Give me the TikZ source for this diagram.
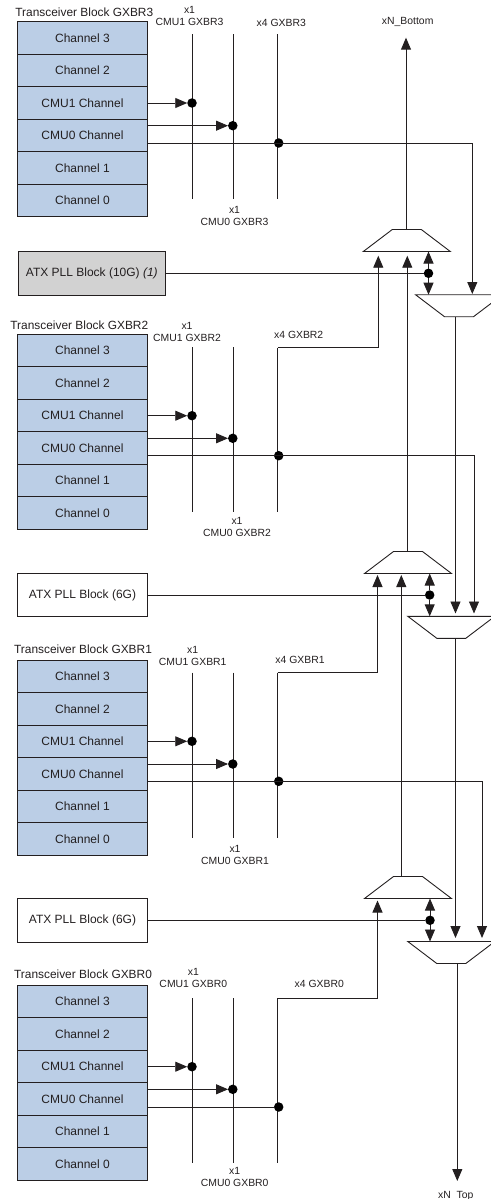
\documentclass[tikz,border=0pt]{standalone}
\usepackage{fontspec}
\setmainfont{Liberation Sans}
\usepackage{xcolor}
\usetikzlibrary{arrows.meta,shapes.geometric}
\definecolor{inkdark}{HTML}{231F20}
\definecolor{chanblue}{HTML}{BBCEE6}
\definecolor{atxgray}{HTML}{D2D2D2}
\tikzset{
  chan/.style={draw=inkdark, fill=chanblue, line width=0.9pt, minimum width=130pt, minimum height=32.5pt, inner sep=0pt, outer sep=0pt, font=\fontsize{12}{14}\selectfont, text=inkdark},
  pll/.style={draw=inkdark, line width=0.9pt, minimum height=43.4pt, inner sep=0pt, outer sep=0pt, font=\fontsize{12}{14}\selectfont, text=inkdark},
  ttl/.style={inner sep=0pt, font=\fontsize{11.9}{14}\selectfont, text=inkdark},
  lbl/.style={inner sep=0pt, align=center, font=\fontsize{10.4}{12}\selectfont, text=inkdark},
  tapdot/.style={circle, fill=black, inner sep=0pt, minimum size=9.5pt, outer sep=0pt},
  bus/.style={draw=inkdark, line width=0.9pt},
  sig/.style={draw=inkdark, line width=0.9pt, -{Triangle[length=12pt,width=10pt]}},
  muxup/.style={draw=inkdark, line width=0.9pt, trapezium, trapezium angle=45, trapezium stretches=true, minimum width=87pt, minimum height=22pt, text width=2pt, text height=2pt, inner sep=0pt, outer sep=0pt},
  muxdn/.style={muxup, shape border rotate=180}
}
\begin{document}
\begin{tikzpicture}[x=1pt, y=-1pt]
  \useasboundingbox (0,0) rectangle (490,1199);

  % Multiplexers
  \node[muxup] (muxupA) at (406.8,240.5) {};
  \node[muxup] (muxupB) at (408,562.5) {};
  \node[muxup] (muxupC) at (408,887.5) {};
  \node[muxdn] (muxdnA) at (459,305.7) {};
  \node[muxdn] (muxdnB) at (451.3,627.3) {};
  \node[muxdn] (muxdnC) at (451.3,952.5) {};

  % Arrow ends near the multiplexers
  \coordinate (inA1) at (378.3,255.7);
  \coordinate (inA2) at (407.3,255.7);
  \coordinate (inB1) at (377.5,575);
  \coordinate (inB2) at (401.3,575);
  \coordinate (inC1) at (377.5,900.5);
  \coordinate (dnA1) at (472.3,294);
  \coordinate (dnB1) at (455.5,613.5);
  \coordinate (dnB2) at (474,613.5);
  \coordinate (dnC1) at (455.5,938);
  \coordinate (dnC2) at (482,938);
  \coordinate (outT) at (406,37.7);
  \coordinate (outB) at (457.3,1181);

  % Block GXBR3
  \node[ttl] (ttl3) at (84.3,12.7) {Transceiver Block GXBR3};
  \node[chan] (ch3b3) at (82.5,37.95) {Channel 3};
  \node[chan] (ch2b3) at (82.5,70.45) {Channel 2};
  \node[chan] (cmu1b3) at (82.5,102.95) {CMU1 Channel};
  \node[chan] (cmu0b3) at (82.5,135.45) {CMU0 Channel};
  \node[chan] (ch1b3) at (82.5,167.95) {Channel 1};
  \node[chan] (ch0b3) at (82.5,200.45) {Channel 0};
  \node[lbl] (lc1b3) at (189.5,15.7) {x1\\CMU1 GXBR3};
  \node[lbl] (lc0b3) at (234.5,215.8) {x1\\CMU0 GXBR3};
  \node[lbl] (lx4b3) at (281.3,23.3) {x4 GXBR3};
  \coordinate (c1t3) at (192,34.3); \coordinate (c1e3) at (192,199.3);
  \coordinate (c0t3) at (233.3,34.3); \coordinate (c0e3) at (233.3,199.3);
  \coordinate (c4t3) at (277.7,34.3); \coordinate (c4e3) at (277.7,199.3);
  \draw[bus] (c1t3) -- (c1e3);
  \draw[bus] (c0t3) -- (c0e3);
  \draw[bus] (c4t3) -- (c4e3);
  \node[tapdot] (dot1b3) at (192,103) {};
  \node[tapdot] (dot0b3) at (232.8,125.7) {};
  \node[tapdot] (dotxb3) at (278.7,143) {};
  \draw[sig] (cmu1b3.east |- dot1b3) -- (dot1b3);
  \draw[sig] (cmu0b3.east |- dot0b3) -- (dot0b3);
  \draw[sig] (cmu0b3.east |- dotxb3) -| (dnA1);

  % ATX PLL 10G
  \node[pll, fill=atxgray, minimum width=147.7pt] (atxA) at (91.8,273.3) {ATX PLL Block (10G) \textit{(1)}};
  \node[tapdot] (dotA) at (428.5,273.3) {};
  \draw[bus] (atxA.east |- dotA) -- (dotA);
  \draw[sig] (dotA) -- (dotA |- muxupA.south);
  \draw[sig] (dotA) -- (dotA |- muxdnA.north);

  % Block GXBR2
  \node[ttl] (ttl2) at (79.3,325.7) {Transceiver Block GXBR2};
  \node[chan] (ch3b2) at (82.5,350.55) {Channel 3};
  \node[chan] (ch2b2) at (82.5,383.05) {Channel 2};
  \node[chan] (cmu1b2) at (82.5,415.55) {CMU1 Channel};
  \node[chan] (cmu0b2) at (82.5,448.05) {CMU0 Channel};
  \node[chan] (ch1b2) at (82.5,480.55) {Channel 1};
  \node[chan] (ch0b2) at (82.5,513.05) {Channel 0};
  \node[lbl] (lc1b2) at (187,332.3) {x1\\CMU1 GXBR2};
  \node[lbl] (lc0b2) at (237,526.5) {x1\\CMU0 GXBR2};
  \node[lbl] (lx4b2) at (298.7,335.3) {x4 GXBR2};
  \coordinate (c1t2) at (192,347.3); \coordinate (c1e2) at (192,512.3);
  \coordinate (c0t2) at (233.3,347.3); \coordinate (c0e2) at (233.3,512.3);
  \coordinate (c4t2) at (277.7,347.8); \coordinate (c4e2) at (277.7,512.3);
  \draw[bus] (c1t2) -- (c1e2);
  \draw[bus] (c0t2) -- (c0e2);
  \draw[bus] (c4t2) -- (c4e2);
  \draw[sig] (c4t2) -| (inA1);
  \node[tapdot] (dot1b2) at (192,415.7) {};
  \node[tapdot] (dot0b2) at (232.8,438.3) {};
  \node[tapdot] (dotxb2) at (278.7,455.7) {};
  \draw[sig] (cmu1b2.east |- dot1b2) -- (dot1b2);
  \draw[sig] (cmu0b2.east |- dot0b2) -- (dot0b2);
  \draw[sig] (cmu0b2.east |- dotxb2) -| (dnB2);

  % ATX PLL 6G, upper
  \node[pll, minimum width=130pt] (atxB) at (82.5,595) {ATX PLL Block (6G)};
  \node[tapdot] (dotB) at (429.7,595) {};
  \draw[bus] (atxB.east |- dotB) -- (dotB);
  \draw[sig] (dotB) -- (dotB |- muxupB.south);
  \draw[sig] (dotB) -- (dotB |- muxdnB.north);

  % Block GXBR1
  \node[ttl] (ttl1) at (83,649.7) {Transceiver Block GXBR1};
  \node[chan] (ch3b1) at (82.5,676.25) {Channel 3};
  \node[chan] (ch2b1) at (82.5,708.75) {Channel 2};
  \node[chan] (cmu1b1) at (82.5,741.25) {CMU1 Channel};
  \node[chan] (cmu0b1) at (82.5,773.75) {CMU0 Channel};
  \node[chan] (ch1b1) at (82.5,806.25) {Channel 1};
  \node[chan] (ch0b1) at (82.5,838.75) {Channel 0};
  \node[lbl] (lc1b1) at (192.7,656) {x1\\CMU1 GXBR1};
  \node[lbl] (lc0b1) at (235,854.5) {x1\\CMU0 GXBR1};
  \node[lbl] (lx4b1) at (300,660.3) {x4 GXBR1};
  \coordinate (c1t1) at (192,672.7); \coordinate (c1e1) at (192,838);
  \coordinate (c0t1) at (233.3,672.7); \coordinate (c0e1) at (233.3,838);
  \coordinate (c4t1) at (277.7,672.7); \coordinate (c4e1) at (277.7,838);
  \draw[bus] (c1t1) -- (c1e1);
  \draw[bus] (c0t1) -- (c0e1);
  \draw[bus] (c4t1) -- (c4e1);
  \draw[sig] (c4t1) -| (inB1);
  \node[tapdot] (dot1b1) at (192,741.3) {};
  \node[tapdot] (dot0b1) at (232.8,764) {};
  \node[tapdot] (dotxb1) at (278.7,781.3) {};
  \draw[sig] (cmu1b1.east |- dot1b1) -- (dot1b1);
  \draw[sig] (cmu0b1.east |- dot0b1) -- (dot0b1);
  \draw[sig] (cmu0b1.east |- dotxb1) -| (dnC2);

  % ATX PLL 6G, lower
  \node[pll, minimum width=130pt] (atxC) at (82.5,920.3) {ATX PLL Block (6G)};
  \node[tapdot] (dotC) at (430,920.3) {};
  \draw[bus] (atxC.east |- dotC) -- (dotC);
  \draw[sig] (dotC) -- (dotC |- muxupC.south);
  \draw[sig] (dotC) -- (dotC |- muxdnC.north);

  % Block GXBR0
  \node[ttl] (ttl0) at (83,974.7) {Transceiver Block GXBR0};
  \node[chan] (ch3b0) at (82.5,1001.55) {Channel 3};
  \node[chan] (ch2b0) at (82.5,1034.05) {Channel 2};
  \node[chan] (cmu1b0) at (82.5,1066.55) {CMU1 Channel};
  \node[chan] (cmu0b0) at (82.5,1099.05) {CMU0 Channel};
  \node[chan] (ch1b0) at (82.5,1131.55) {Channel 1};
  \node[chan] (ch0b0) at (82.5,1164.05) {Channel 0};
  \node[lbl] (lc1b0) at (193.3,978) {x1\\CMU1 GXBR0};
  \node[lbl] (lc0b0) at (234.7,1176.8) {x1\\CMU0 GXBR0};
  \node[lbl] (lx4b0) at (319.3,984.3) {x4 GXBR0};
  \coordinate (c1t0) at (192,998.3); \coordinate (c1e0) at (192,1163.3);
  \coordinate (c0t0) at (233.3,998.3); \coordinate (c0e0) at (233.3,1163.3);
  \coordinate (c4t0) at (277.7,998.3); \coordinate (c4e0) at (277.7,1163.3);
  \draw[bus] (c1t0) -- (c1e0);
  \draw[bus] (c0t0) -- (c0e0);
  \draw[bus] (c4t0) -- (c4e0);
  \draw[sig] (c4t0) -| (inC1);
  \node[tapdot] (dot1b0) at (192,1066.7) {};
  \node[tapdot] (dot0b0) at (232.8,1089.3) {};
  \node[tapdot] (dotxb0) at (278.7,1107) {};
  \draw[sig] (cmu1b0.east |- dot1b0) -- (dot1b0);
  \draw[sig] (cmu0b0.east |- dot0b0) -- (dot0b0);
  \draw[bus] (cmu0b0.east |- dotxb0) -- (dotxb0);

  % Links between the multiplexers
  \draw[sig] (inA2 |- muxupB.north) -- (inA2);
  \draw[sig] (inB2 |- muxupC.north) -- (inB2);
  \draw[sig] (dnB1 |- muxdnA.south) -- (dnB1);
  \draw[sig] (dnC1 |- muxdnB.south) -- (dnC1);

  % Outputs
  \draw[sig] (outT |- muxupA.north) -- (outT);
  \draw[sig] (outB |- muxdnC.south) -- (outB);
  \node[lbl] (lbot) at (407.7,22.3) {xN\_Bottom};
  \node[lbl, anchor=base] (ltop) at (455.7,1198) {xN\_Top};
\end{tikzpicture}
\end{document}
